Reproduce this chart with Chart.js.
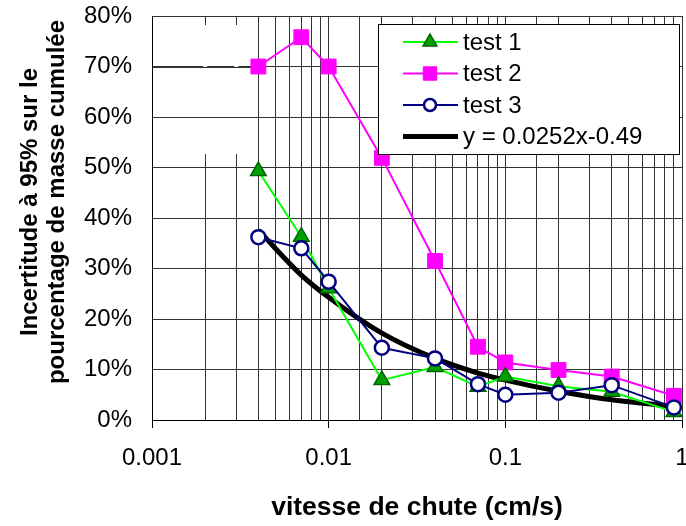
<!DOCTYPE html>
<html>
<head>
<meta charset="utf-8">
<script src="https://cdn.jsdelivr.net/npm/chart.js@4/dist/chart.umd.min.js"></script>
<style>
  html, body { margin: 0; padding: 0; background: #fff; }
  #wrap { width: 686px; height: 526px; }
</style>
</head>
<body>
<div id="wrap"><canvas id="canvas"></canvas></div>
<script>
// vitesse de chute (cm/s) and incertitude (%)
const vitesse = [0.004, 0.007, 0.01, 0.02, 0.04, 0.07, 0.1, 0.2, 0.4, 0.9];
const test1 = [49.3, 36.3, 26.1, 7.9, 10.5, 6.6, 8.6, 6.7, 5.6, 1.6];
const test2 = [70.0, 75.8, 70.0, 51.9, 31.5, 14.5, 11.4, 9.9, 8.6, 4.8];
const test3 = [36.2, 34.0, 27.4, 14.3, 12.2, 7.1, 5.0, 5.4, 6.9, 2.5];
const tendance = [37.6, 28.7, 24.3, 17.2, 12.2, 9.3, 7.9, 5.7, 4.0, 2.7];
const seriesNames = ["test 1", "test 2", "test 3", "y = 0.0252x-0.49"];
const xTickLabels = ["0.001", "0.01", "0.1", "1"];
const yTitle = ["Incertitude à 95% sur le", "pourcentage de masse cumulée"];
const xTitle = "vitesse de chute (cm/s)";
// minor verticals that the original leaves blank behind an empty box
const hiddenGrid = [0.002, 0.003];

const FONT = "'Liberation Sans', Arial, sans-serif";
Chart.defaults.font.family = FONT;
Chart.defaults.color = "#000";

const toPoints = (vals) => vitesse.map((v, i) => ({x: v, y: vals[i]}));

const isDecade = (v) => Number.isInteger(Math.round(Math.log10(v) * 1000) / 1000);

// keep the plot box fixed, whatever the tick labels want
const noPad = (scale) => {
  scale.paddingLeft = 0;
  scale.paddingRight = 0;
  scale.paddingTop = 0;
  scale.paddingBottom = 0;
};

// blank patch over the first minor gridlines (as in the original)
const blankPatch = {
  id: "blankPatch",
  beforeDatasetsDraw(chart) {
    const {ctx, scales: {x, y}} = chart;
    ctx.save();
    ctx.fillStyle = "#fff";
    hiddenGrid.forEach((v) => {
      const px = x.getPixelForValue(v);
      ctx.fillRect(px - 2, 25, 4, 129);
    });
    ctx.strokeStyle = "#333";
    ctx.lineWidth = 1;
    [60, 70].forEach((v) => {
      const py = Math.round(y.getPixelForValue(v)) + 0.5;
      ctx.beginPath();
      ctx.moveTo(x.left, py);
      ctx.lineTo(x.getPixelForValue(0.004), py);
      ctx.stroke();
    });
    ctx.restore();
  }
};

// white legend box drawn over the plot, like the Excel one
const legendBox = {
  id: "legendBox",
  afterDraw(chart) {
    const {ctx} = chart;
    ctx.save();
    ctx.fillStyle = "#fff";
    ctx.fillRect(378, 24, 302, 131);
    ctx.strokeStyle = "#000";
    ctx.lineWidth = 1;
    ctx.strokeRect(378.5, 24.5, 301, 130);
    chart.data.datasets.forEach((ds, i) => {
      const y = 42 + i * 31.5;
      ctx.strokeStyle = ds.borderColor;
      ctx.lineWidth = ds.borderWidth;
      ctx.beginPath();
      ctx.moveTo(403, y);
      ctx.lineTo(458, y);
      ctx.stroke();
      if (ds.pointRadius > 0) {
        ctx.fillStyle = ds.pointBackgroundColor;
        ctx.strokeStyle = ds.pointBorderColor;
        ctx.lineWidth = ds.pointBorderWidth;
        Chart.helpers.drawPoint(ctx, {pointStyle: ds.pointStyle, radius: ds.pointRadius - 1, borderWidth: ds.pointBorderWidth, rotation: 0}, 430, y);
      }
      ctx.fillStyle = "#000";
      ctx.font = "24px " + FONT;
      ctx.textBaseline = "middle";
      ctx.textAlign = "left";
      ctx.fillText(ds.label, 463, y + 1);
    });
    // y axis title, two lines, rotated
    ctx.font = "bold 24px " + FONT;
    ctx.textAlign = "center";
    ctx.textBaseline = "middle";
    ctx.translate(30, 202);
    ctx.rotate(-Math.PI / 2);
    ctx.fillText(yTitle[0], 0, 0);
    ctx.fillText(yTitle[1], 0, 27);
    ctx.restore();
  }
};

new Chart(document.getElementById("canvas").getContext("2d"), {
  type: "line",
  data: {
    datasets: [
      {
        label: seriesNames[0],
        data: toPoints(test1),
        borderColor: "#00ff00",
        borderWidth: 2,
        pointStyle: "triangle",
        pointRadius: 9,
        pointBackgroundColor: "#00a000",
        pointBorderColor: "#006400",
        pointBorderWidth: 1.5,
        order: 1
      },
      {
        label: seriesNames[1],
        data: toPoints(test2),
        borderColor: "#ff00ff",
        borderWidth: 2,
        pointStyle: "rect",
        pointRadius: 10.5,
        pointBackgroundColor: "#ff00ff",
        pointBorderColor: "#ff00ff",
        pointBorderWidth: 1,
        order: 2
      },
      {
        label: seriesNames[2],
        data: toPoints(test3),
        borderColor: "#000080",
        borderWidth: 2,
        pointStyle: "circle",
        pointRadius: 7,
        pointBackgroundColor: "#fff",
        pointBorderColor: "#000080",
        pointBorderWidth: 2.5,
        order: 0
      },
      {
        label: seriesNames[3],
        data: toPoints(tendance),
        borderColor: "#000",
        borderWidth: 5,
        pointRadius: 0,
        cubicInterpolationMode: "monotone",
        order: 3
      }
    ]
  },
  options: {
    responsive: true,
    maintainAspectRatio: false,
    animation: false,
    layout: {autoPadding: false, padding: {top: 16, right: 4, left: 0, bottom: 0}},
    plugins: {
      legend: {display: false},
      tooltip: {enabled: false}
    },
    scales: {
      x: {
        type: "logarithmic",
        min: 0.001,
        max: 1,
        afterFit: (scale) => {
          scale.height = 106;
          noPad(scale);
        },
        grid: {
          color: "#333",
          lineWidth: 1,
          tickLength: 8,
          tickColor: (c) => isDecade(c.tick.value) ? "#000" : "rgba(0,0,0,0)"
        },
        border: {color: "#000", width: 1},
        ticks: {
          autoSkip: false,
          maxRotation: 0,
          padding: 16,
          font: {size: 24},
          callback: (v) => isDecade(v) ? xTickLabels[Math.round(Math.log10(v)) + 3] : ""
        },
        title: {
          display: true,
          text: xTitle,
          font: {size: 26.5, weight: "bold"},
          padding: {top: 0, bottom: 2}
        }
      },
      y: {
        min: 0,
        max: 80,
        afterFit: (scale) => {
          scale.width = 152;
          noPad(scale);
        },
        grid: {color: "#333", lineWidth: 1, drawTicks: false},
        border: {color: "#000", width: 1},
        ticks: {
          stepSize: 10,
          padding: 20,
          font: {size: 24},
          callback: (v) => v + "%"
        }
      }
    }
  },
  plugins: [blankPatch, legendBox]
});
</script>
</body>
</html>
